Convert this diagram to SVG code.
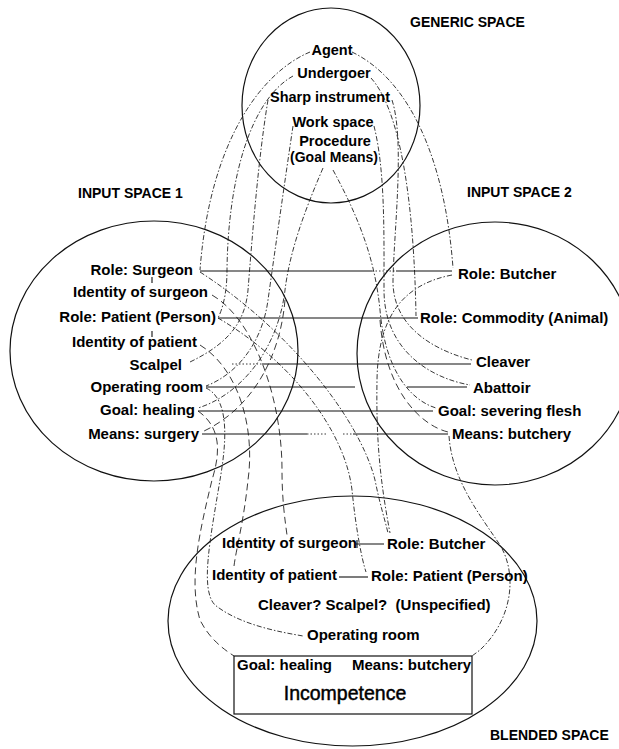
<svg xmlns="http://www.w3.org/2000/svg" width="619" height="749" viewBox="0 0 619 749">
<style>
.sp{fill:none;stroke:#111;stroke-width:1.2}
.ln{stroke:#111;stroke-width:1.1;fill:none}
.dt{stroke:#222;stroke-width:0.9;fill:none;stroke-dasharray:1.5,2}
.d{stroke:#222;stroke-width:0.9;fill:none;stroke-dasharray:5,2,1.5,2}
.dl{stroke:#222;stroke-width:0.9;fill:none;stroke-dasharray:7,4}
text{font-family:"Liberation Sans",Arial,sans-serif;font-weight:bold;fill:#000}
.g{font-size:14.5px;text-anchor:middle}
.l{font-size:15px;text-anchor:end}
.r{font-size:15px;text-anchor:start}
.t{font-size:14px}
.big{font-size:19.5px;font-weight:normal;text-anchor:middle;stroke:#000;stroke-width:0.45}
</style>
<rect width="619" height="749" fill="#fff"/>

<g id="generic-space"><ellipse class="sp" cx="331" cy="105.5" rx="89" ry="97.5"/><text class="t" x="410" y="27">GENERIC SPACE</text></g>
<g id="input-space-1"><ellipse class="sp" cx="154" cy="351" rx="144" ry="130"/><text class="t" x="78" y="198">INPUT SPACE 1</text></g>
<g id="input-space-2"><ellipse class="sp" cx="495" cy="353.5" rx="138" ry="131.5"/><text class="t" x="467" y="197">INPUT SPACE 2</text></g>
<g id="blended-space"><ellipse class="sp" cx="352.5" cy="621" rx="184.5" ry="125"/><text class="t" x="490" y="740">BLENDED SPACE</text></g>

<g id="connectors">
<!-- generic to input 1 -->
<path class="d" d="M310,52 C262,72 210,140 200,270"/>
<path class="d" d="M293,76 C250,100 228,180 227,270 C227,295 222,310 218,318"/>
<path class="d" d="M268,100 C258,160 252,240 248,290 C245,325 225,345 190,362"/>
<path class="d" d="M293,126 C285,180 275,250 268,300 C262,345 235,375 206,386"/>
<path class="d" d="M323,168 C305,210 290,250 285,290 C278,350 240,395 198,408"/>
<path class="dl" d="M285,300 C280,360 250,410 202,432"/>
<!-- generic to input 2 -->
<path class="d" d="M352,52 C410,80 445,160 453,268"/>
<path class="d" d="M371,78 C400,110 414,200 416,316"/>
<path class="d" d="M392,100 C405,140 394,230 393,280 C392,330 440,352 472,360"/>
<path class="d" d="M374,126 C385,170 384,230 384,290 C384,350 430,378 470,385"/>
<path class="d" d="M333,170 C360,220 375,260 380,310 C385,370 410,400 436,408"/>
<path class="dl" d="M380,320 C385,390 420,425 448,432"/>
<!-- input spaces to blended -->
<path class="d" d="M200,272 C290,330 360,420 375,480 C380,505 385,520 388,533"/>
<path class="d" d="M452,275 C400,285 378,320 377,380 C376,440 380,480 390,533"/>
<path class="dl" d="M212,295 C255,320 282,400 282,470 C282,500 285,520 287,535"/>
<path class="d" d="M218,318 C290,360 345,430 352,490 C356,530 362,560 366,572"/>
<path class="dl" d="M200,345 C240,370 255,430 248,480 C244,520 236,550 234,566"/>
<path class="d" d="M206,388 C232,400 225,450 220,480 C210,540 200,590 215,605 C240,625 280,632 303,636"/>
<path class="dl" d="M198,411 C225,430 218,460 212,480 C200,530 188,580 200,620 C210,640 225,650 234,656"/>
<path class="d" d="M449,436 C452,480 480,515 500,545 C518,575 512,620 480,650 L472,656"/>
<!-- straight solid links -->
<path class="ln" d="M200,271 H372 M396,271 H452"/>
<path class="dt" d="M372,271 H396"/>
<path class="ln" d="M218,318 H418"/>
<path class="dt" d="M232,364 H262"/>
<path class="ln" d="M262,364 H471"/>
<path class="ln" d="M206,387 H355 M407,387 H467"/>
<path class="ln" d="M198,411 H433"/>
<path class="ln" d="M202,434 H307 M353,434 H448"/>
<path class="dt" d="M307,434 H326 M343,434 H353"/>
<path class="ln" d="M152,277 V283 M152,331 V337"/>
<path class="ln" d="M356,544 H384 M357,540 V548"/>
<path class="ln" d="M339,577 H368"/>
</g>

<g id="incompetence-box"><rect x="234" y="656" width="238" height="58" fill="#fff" stroke="#111" stroke-width="1.2"/>
<text class="r" x="237" y="670">Goal: healing</text>
<text class="r" x="352" y="670">Means: butchery</text>
<text class="big" x="345" y="700">Incompetence</text></g>

<g id="g-agent"><text class="g" x="332" y="55">Agent</text></g>
<g id="g-undergoer"><text class="g" x="334" y="78">Undergoer</text></g>
<g id="g-sharp"><text class="g" x="330" y="102">Sharp instrument</text></g>
<g id="g-work"><text class="g" x="333" y="127">Work space</text></g>
<g id="g-procedure"><text class="g" x="335" y="146">Procedure</text><text class="g" x="334" y="162" style="font-size:14px">(Goal Means)</text></g>

<g id="i1-surgeon"><text class="l" x="193" y="275">Role: Surgeon</text></g>
<g id="i1-idsurgeon"><text class="l" x="208" y="297">Identity of surgeon</text></g>
<g id="i1-patient"><text class="l" x="216" y="322">Role: Patient (Person)</text></g>
<g id="i1-idpatient"><text class="l" x="197" y="347">Identity of patient</text></g>
<g id="i1-scalpel"><text class="l" x="182" y="370">Scalpel</text></g>
<g id="i1-room"><text class="l" x="203" y="392">Operating room</text></g>
<g id="i1-goal"><text class="l" x="195" y="415">Goal: healing</text></g>
<g id="i1-means"><text class="l" x="199" y="439">Means: surgery</text></g>

<g id="i2-butcher"><text class="r" x="458" y="279">Role: Butcher</text></g>
<g id="i2-commodity"><text class="r" x="420" y="323">Role: Commodity (Animal)</text></g>
<g id="i2-cleaver"><text class="r" x="476" y="367">Cleaver</text></g>
<g id="i2-abattoir"><text class="r" x="473" y="393">Abattoir</text></g>
<g id="i2-goal"><text class="r" x="438" y="416">Goal: severing flesh</text></g>
<g id="i2-means"><text class="r" x="452" y="439">Means: butchery</text></g>

<g id="b-idsurgeon"><text class="r" x="222" y="548">Identity of surgeon</text></g>
<g id="b-butcher"><text class="r" x="387" y="549">Role: Butcher</text></g>
<g id="b-idpatient"><text class="r" x="212" y="580">Identity of patient</text></g>
<g id="b-patient"><text class="r" x="371" y="581">Role: Patient (Person)</text></g>
<g id="b-instrument"><text class="r" x="258" y="610" style="white-space:pre">Cleaver? Scalpel?  (Unspecified)</text></g>
<g id="b-room"><text class="r" x="307" y="640">Operating room</text></g>
</svg>
